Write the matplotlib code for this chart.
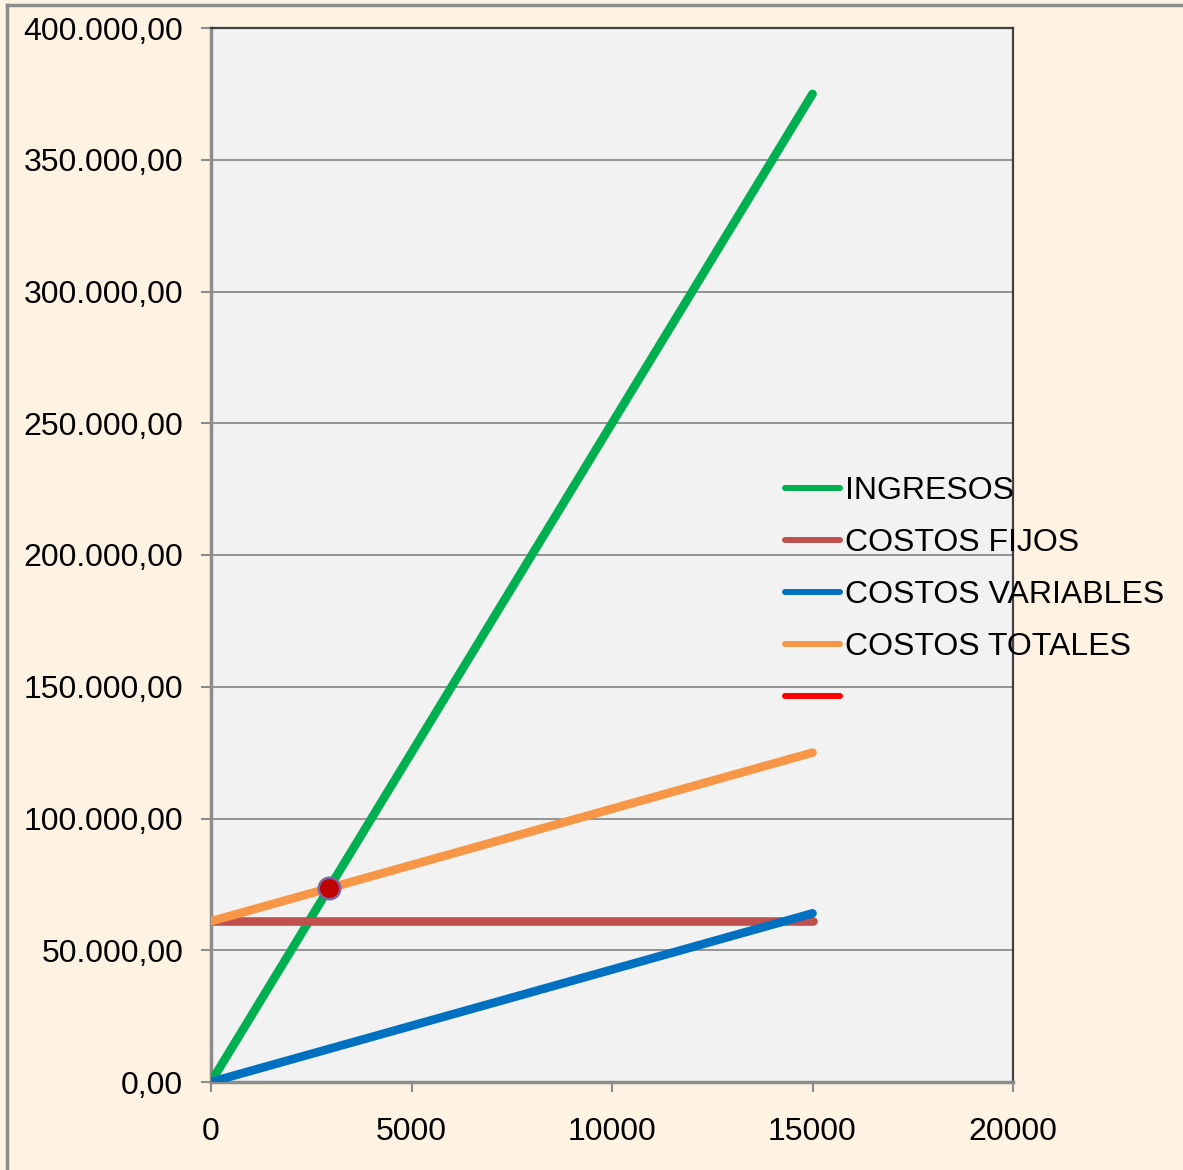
import matplotlib.pyplot as plt
from matplotlib.lines import Line2D
from matplotlib.ticker import FuncFormatter

plt.rcParams['font.family'] = ['Liberation Sans', 'DejaVu Sans']

# unidades producidas y resultados por serie
unidades = [0, 3000, 6000, 9000, 12000, 15000]
ingresos = [0, 75000, 150000, 225000, 300000, 375000]
costos_fijos = [61000, 61000, 61000, 61000, 61000, 61000]
costos_variables = [0, 12800, 25600, 38400, 51200, 64000]
costos_totales = [61000, 73800, 86600, 99400, 112200, 125000]

# punto de equilibrio
pe_unidades = [2942]
pe_valor = [73553]

nombres = ['INGRESOS', 'COSTOS FIJOS', 'COSTOS VARIABLES', 'COSTOS TOTALES', '']
colores = ['#00B050', '#C0504D', '#0070C0', '#F79646', '#FF0000']

fondo = '#FEF2E3'
fig = plt.figure(figsize=(11.83, 11.70), dpi=100, facecolor=fondo)
ax = fig.add_axes([211 / 1183, 88 / 1170, 802 / 1183, 1054 / 1170])
ax.set_facecolor('#F2F2F2')

# borde exterior del grafico
fig.add_artist(Line2D([7 / 1183, 7 / 1183], [0, 1 - 5 / 1170], transform=fig.transFigure,
                      color='#8C8C8C', lw=2.5))
fig.add_artist(Line2D([7 / 1183, 1], [1 - 5 / 1170, 1 - 5 / 1170], transform=fig.transFigure,
                      color='#8C8C8C', lw=2.5))

series = [ingresos, costos_fijos, costos_variables, costos_totales]
handles = []
for i in range(4):
    l, = ax.plot(unidades, series[i], color=colores[i], lw=6.2, solid_capstyle='round', zorder=3)
    handles.append(l)
vacia, = ax.plot([], [], color=colores[4], lw=5, solid_capstyle='round')
handles.append(vacia)

ax.plot(pe_unidades, pe_valor, 'o', color='#C00000', markersize=15.5,
        markeredgecolor='#8064A2', markeredgewidth=1.8, zorder=5)

ax.set_xlim(0, 20000)
ax.set_ylim(0, 400000)
ax.set_xticks([0, 5000, 10000, 15000, 20000])
ax.set_yticks(range(0, 400001, 50000))
ax.yaxis.set_major_formatter(FuncFormatter(
    lambda v, p: '{:,.2f}'.format(v).replace(',', 'X').replace('.', ',').replace('X', '.')))
ax.grid(axis='y', color='#8C8C8C', lw=1.3)
ax.set_axisbelow(True)
ax.tick_params(labelsize=23, colors='#8C8C8C', labelcolor='black', length=7, width=1.5,
               direction='out')
ax.tick_params(axis='y', pad=13)
ax.tick_params(axis='x', pad=18)

for s in ['top', 'right']:
    ax.spines[s].set_color('#404040')
    ax.spines[s].set_linewidth(1.6)
for s in ['left', 'bottom']:
    ax.spines[s].set_color('#8C8C8C')
    ax.spines[s].set_linewidth(2.5)

leg = fig.legend(handles, nombres, loc='upper left', bbox_to_anchor=(785 / 1183, 1 - 476 / 1170),
                 frameon=False, fontsize=23, handlelength=1.72, handletextpad=0.15,
                 labelspacing=0.69, borderpad=0, borderaxespad=0)
for h in leg.get_lines():
    h.set_linewidth(4.3)
    h.set_solid_capstyle('round')

fig.savefig('out.png', dpi=100, facecolor=fondo)
